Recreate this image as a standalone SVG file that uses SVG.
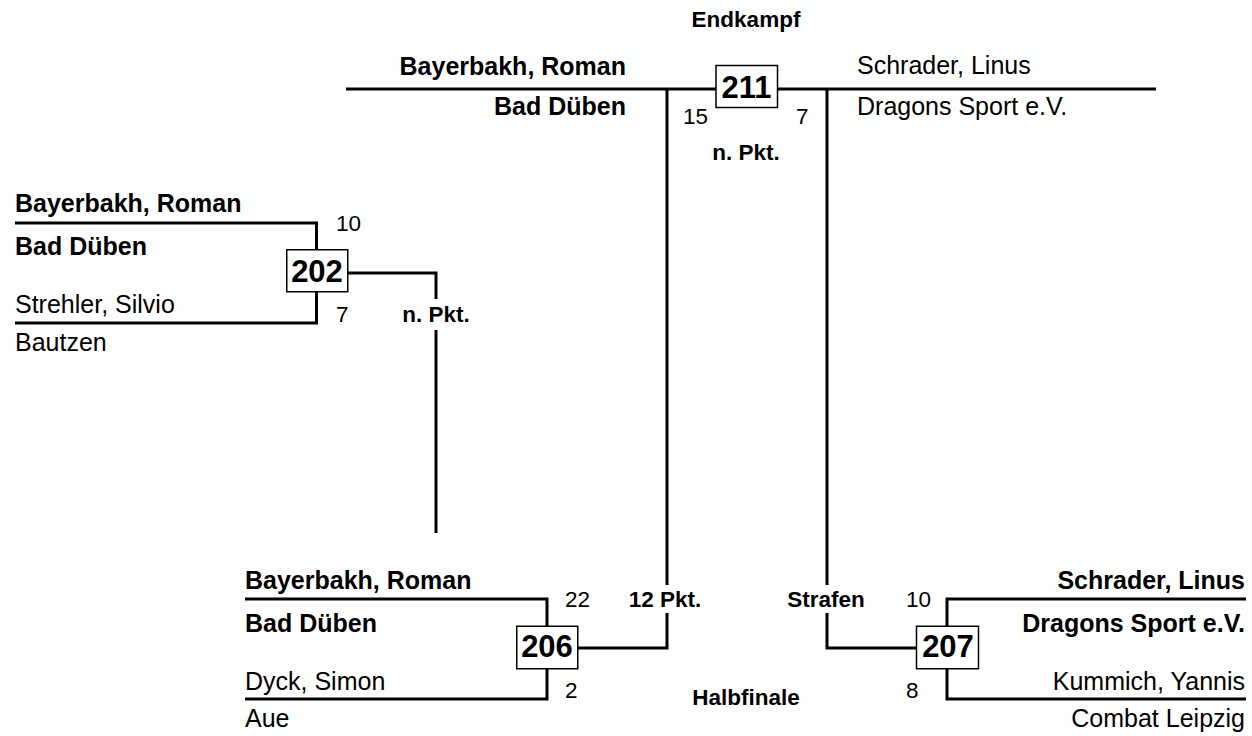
<svg xmlns="http://www.w3.org/2000/svg" width="1252" height="736" viewBox="0 0 1252 736">
<style>
text{font-family:"Liberation Sans",Arial,Helvetica,sans-serif;fill:#000}
.nm{font-size:25px}
.b{font-weight:bold}
.lbl{font-size:22.5px;font-weight:bold;text-anchor:middle}
.sc{font-size:22.5px}
.num{font-size:31px;font-weight:bold;text-anchor:middle}
.box{fill:#fff;stroke:#000;stroke-width:1.5}
.ln{fill:none;stroke:#000;stroke-width:3}
.r{text-anchor:end}
</style>
<rect width="1252" height="736" fill="#fff"/>
<g id="connectors" class="ln">
<path d="M346 89H1156"/>
<path d="M15 223H316.5V250M316.5 292V323H15"/>
<path d="M348 273H436V299M436 330V533"/>
<path d="M245 599H547V626M547 669V699H245"/>
<path d="M578 648H667V613M667 585V89"/>
<path d="M1246 599H947V626M947 669V699H1246"/>
<path d="M916 648H827V613M827 585V89"/>
</g>
<g id="labels">
<text class="lbl" x="746" y="27">Endkampf</text>
<text class="lbl" x="746" y="705">Halbfinale</text>
</g>
<g id="m211">
<rect class="box" x="716" y="65.5" width="61.5" height="42"/>
<text class="num" x="746.5" y="98">211</text>
<text class="nm b r" x="626" y="74.5">Bayerbakh, Roman</text>
<text class="nm b r" x="626" y="115">Bad Düben</text>
<text class="nm" x="857" y="74">Schrader, Linus</text>
<text class="nm" x="857" y="114.5">Dragons Sport e.V.</text>
<text class="sc" x="683" y="124">15</text>
<text class="sc" x="796" y="124">7</text>
<text class="lbl" x="746" y="160">n. Pkt.</text>
</g>
<g id="m202">
<rect class="box" x="286.75" y="249.75" width="61" height="42"/>
<text class="num" x="317" y="282">202</text>
<text class="nm b" x="15" y="212">Bayerbakh, Roman</text>
<text class="nm b" x="15" y="255">Bad Düben</text>
<text class="nm" x="15" y="313">Strehler, Silvio</text>
<text class="nm" x="15" y="351">Bautzen</text>
<text class="sc" x="336" y="231">10</text>
<text class="sc" x="336" y="322">7</text>
<text class="lbl" x="436" y="322">n. Pkt.</text>
</g>
<g id="m206">
<rect class="box" x="516.75" y="626.25" width="61" height="42.5"/>
<text class="num" x="547" y="657">206</text>
<text class="nm b" x="245" y="589">Bayerbakh, Roman</text>
<text class="nm b" x="245" y="631.5">Bad Düben</text>
<text class="nm" x="245" y="690">Dyck, Simon</text>
<text class="nm" x="245" y="727">Aue</text>
<text class="sc" x="565" y="607">22</text>
<text class="sc" x="565" y="698">2</text>
<text class="lbl" x="665" y="607">12 Pkt.</text>
</g>
<g id="m207">
<rect class="box" x="916.5" y="626.25" width="62" height="42.5"/>
<text class="num" x="948" y="657">207</text>
<text class="nm b r" x="1245" y="589">Schrader, Linus</text>
<text class="nm b r" x="1245" y="631.5">Dragons Sport e.V.</text>
<text class="nm r" x="1245" y="690">Kummich, Yannis</text>
<text class="nm r" x="1245" y="727">Combat Leipzig</text>
<text class="sc" x="906" y="607">10</text>
<text class="sc" x="906" y="698">8</text>
<text class="lbl" x="826" y="607">Strafen</text>
</g>
</svg>
